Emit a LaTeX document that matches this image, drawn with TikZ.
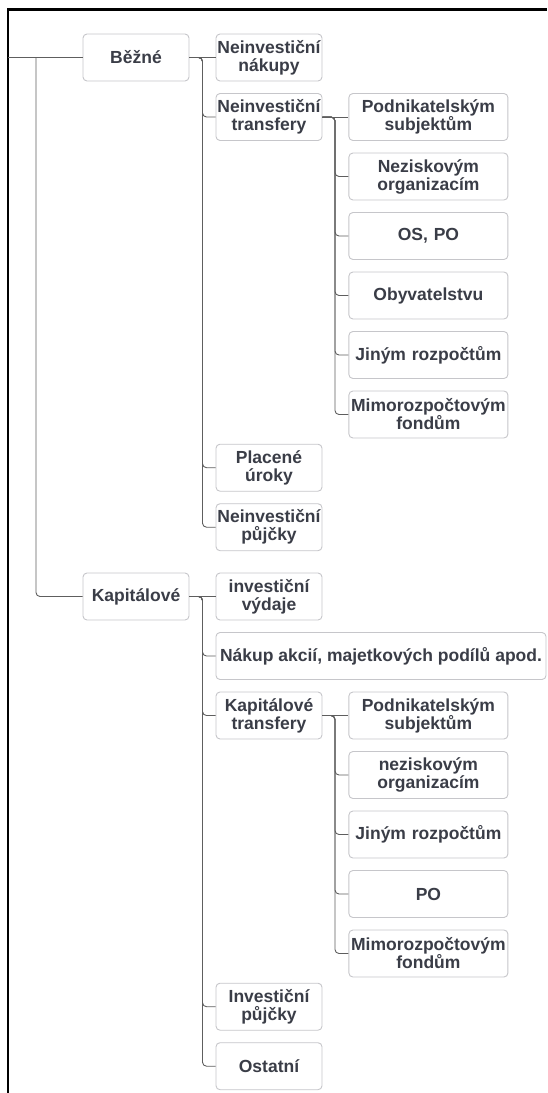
\documentclass[tikz,border=0pt]{standalone}
\usepackage{fontspec}
\setmainfont{Liberation Sans}
\usepackage{xcolor}
\usetikzlibrary{positioning}

\definecolor{txtgray}{HTML}{3A3D47}
\definecolor{boxgray}{HTML}{C6C6CA}
\definecolor{linegray}{HTML}{5E5E5E}

\tikzset{
  item/.style={draw=boxgray, line width=0.9pt, rounded corners=4pt, fill=white,
    text=txtgray, font=\fontsize{17.5}{18}\selectfont\bfseries,
    align=center, minimum height=47pt, inner sep=1pt},
  lvlone/.style={item, minimum width=106pt, text width=104pt},
  lvltwo/.style={item, minimum width=106pt, text width=104pt},
  lvlthree/.style={item, minimum width=159pt, text width=157pt},
  conn/.style={draw=linegray, line width=0.9pt, rounded corners=4pt},
}

\begin{document}
\begin{tikzpicture}[x=1pt, y=1pt, node distance=11.6pt]
        \useasboundingbox (0,0) rectangle (547,-1093);
        % frame
        \draw[line width=2.2pt] (8,-1093) -- (8,-9.5) -- (547,-9.5);

        % Bezne
        \node[lvlone] (bezne) at (136,-57.5) {Běžné};
        \node[lvltwo] (nakupy) at (269,-57.5) {Neinvestiční\\nákupy};
        \node[lvltwo, below=of nakupy] (ntransfery) {Neinvestiční\\transfery};
        \node[lvlthree, right=26pt of ntransfery] (npodnik) {Podnikatelským\\subjektům};
        \node[lvlthree, below=of npodnik] (nnezisk) {Neziskovým\\organizacím};
        \node[lvlthree, below=of nnezisk] (nospo) {OS, PO};
        \node[lvlthree, below=of nospo] (nobyv) {Obyvatelstvu};
        \node[lvlthree, below=of nobyv] (njiny) {Jiným rozpočtům};
        \node[lvlthree, below=of njiny] (nmimo) {Mimorozpočtovým\\fondům};
        \node[lvltwo] (placene) at (269,-467.7) {Placené\\úroky};
        \node[lvltwo, below=of placene] (npujcky) {Neinvestiční\\půjčky};

        % Kapitalove
        \node[lvlone] (kapitalove) at (136,-596.5) {Kapitálové};
        \node[lvltwo] (vydaje) at (269,-596.5) {investiční\\výdaje};
        \node[item, minimum width=330pt, below=of vydaje.south west, anchor=north west] (nakup) {Nákup akcií, majetkových podílů apod.};
        \node[lvltwo, below=of nakup.south west, anchor=north west] (ktransfery) {Kapitálové\\transfery};
        \node[lvlthree, right=26pt of ktransfery] (kpodnik) {Podnikatelským\\subjektům};
        \node[lvlthree, below=of kpodnik] (knezisk) {neziskovým\\organizacím};
        \node[lvlthree, below=of knezisk] (kjiny) {Jiným rozpočtům};
        \node[lvlthree, below=of kjiny] (kpo) {PO};
        \node[lvlthree, below=of kpo] (kmimo) {Mimorozpočtovým\\fondům};
        \node[lvltwo] (kpujcky) at (269,-1006.7) {Investiční\\půjčky};
        \node[lvltwo, below=of kpujcky] (ostatni) {Ostatní};

        % connectors
        \coordinate (root) at (8,-57.5);
        \coordinate (trunk) at (36,-57.5);
        \coordinate (bj) at (202.5,0);
        \coordinate (tj) at (335,0);
        \draw[conn] (root) -- (bezne.west);
        \draw[conn] (trunk) |- (kapitalove.west);
        \draw[conn] (bezne) -- (nakupy);
        \foreach \c in {ntransfery, placene, npujcky}
            \draw[conn] (bezne.east) -- (bezne.east -| bj) |- (\c.west);
        \draw[conn] (ntransfery) -- (npodnik);
        \foreach \c in {nnezisk, nospo, nobyv, njiny, nmimo}
            \draw[conn] (ntransfery.east) -- (ntransfery.east -| tj) |- (\c.west);
        \draw[conn] (kapitalove) -- (vydaje);
        \foreach \c in {nakup, ktransfery, kpujcky, ostatni}
            \draw[conn] (kapitalove.east) -- (kapitalove.east -| bj) |- (\c.west);
        \draw[conn] (ktransfery) -- (kpodnik);
        \foreach \c in {knezisk, kjiny, kpo, kmimo}
            \draw[conn] (ktransfery.east) -- (ktransfery.east -| tj) |- (\c.west);
    \end{tikzpicture}
\end{document}
